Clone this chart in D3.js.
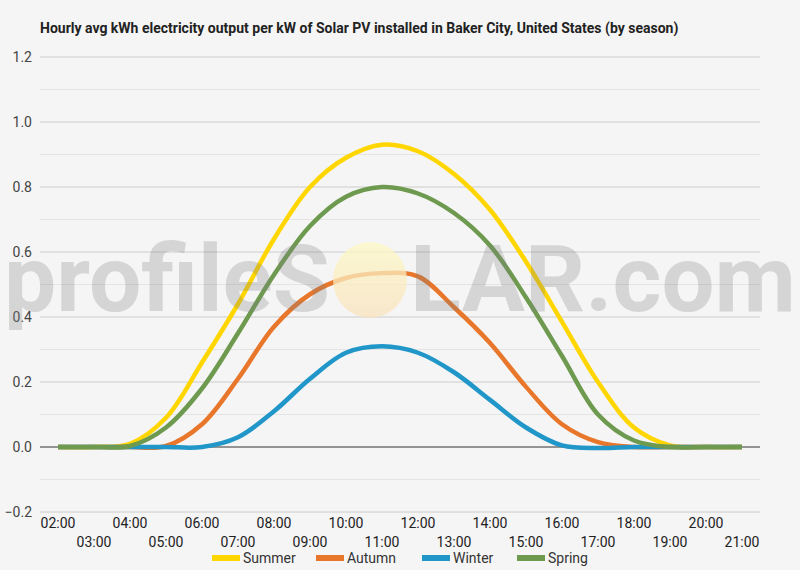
<!DOCTYPE html>
<html>
<head>
<meta charset="utf-8">
<script src="https://cdn.jsdelivr.net/npm/d3@7"></script>
<style>
  body { margin: 0; background: #f5f5f5; }
  svg { display: block; font-family: Roboto, "Noto Sans", sans-serif; }
</style>
</head>
<body>
<div id="container"></div>
<script>
// hours on the x axis
var hours = ["02:00", "03:00", "04:00", "05:00", "06:00", "07:00", "08:00", "09:00", "10:00", "11:00",
             "12:00", "13:00", "14:00", "15:00", "16:00", "17:00", "18:00", "19:00", "20:00", "21:00"];

var summer = [0, 0, 0.01, 0.09, 0.26, 0.44, 0.64, 0.80, 0.89, 0.93, 0.91, 0.84, 0.73, 0.57, 0.385, 0.20, 0.06, 0.005, 0, 0];
var autumn = [0, 0, 0, 0.003, 0.07, 0.21, 0.37, 0.47, 0.52, 0.535, 0.525, 0.43, 0.32, 0.185, 0.07, 0.015, 0, 0, 0, 0];
var winter = [0, 0, 0, 0, 0, 0.03, 0.11, 0.21, 0.29, 0.31, 0.29, 0.23, 0.145, 0.06, 0.005, -0.003, 0, 0, 0, 0];
var spring = [0, 0, 0.003, 0.06, 0.18, 0.35, 0.53, 0.68, 0.77, 0.80, 0.78, 0.72, 0.62, 0.46, 0.28, 0.10, 0.02, 0, 0, 0];

var seriesNames = ["Summer", "Autumn", "Winter", "Spring"];
var seriesColors = ["#ffd600", "#e8762b", "#2196c8", "#6e9a4f"];
var seriesValues = [summer, autumn, winter, spring];

var yMajor = [-0.2, 0, 0.2, 0.4, 0.6, 0.8, 1.0, 1.2];
var yMinor = [-0.1, 0.1, 0.3, 0.5, 0.7, 0.9, 1.1];

var svgWidth = 800;
var svgHeight = 570;
var margin = { top: 57, right: 40, bottom: 58, left: 40 };
var width = svgWidth - margin.left - margin.right;
var height = svgHeight - margin.top - margin.bottom;

var svg = d3.select("#container")
  .append("svg")
  .attr("width", svgWidth)
  .attr("height", svgHeight);

svg.append("rect")
  .attr("width", svgWidth)
  .attr("height", svgHeight)
  .attr("fill", "#f5f5f5");

svg.append("text")
  .attr("x", 40)
  .attr("y", 33)
  .attr("font-size", "14px")
  .attr("font-weight", "bold")
  .attr("fill", "#222")
  .text("Hourly avg kWh electricity output per kW of Solar PV installed in Baker City, United States (by season)");

var chart = svg.append("g")
  .attr("transform", `translate(${margin.left}, ${margin.top})`);

var x = d3.scaleBand().domain(hours).range([0, width]);
var y = d3.scaleLinear().domain([-0.2, 1.2]).range([height, 0]);

// gridlines
chart.selectAll(".minor")
  .data(yMinor)
  .enter()
  .append("line")
  .attr("x1", 0).attr("x2", width)
  .attr("y1", d => y(d)).attr("y2", d => y(d))
  .attr("stroke", "#e4e4e4")
  .attr("stroke-width", 1);

chart.selectAll(".major")
  .data(yMajor)
  .enter()
  .append("line")
  .attr("x1", 0).attr("x2", width)
  .attr("y1", d => y(d)).attr("y2", d => y(d))
  .attr("stroke", d => d === 0 ? "#333" : "#cccccc")
  .attr("stroke-width", 1);

// y axis labels
var leftAxis = d3.axisLeft(y).tickValues(yMajor).tickSize(0).tickPadding(8).tickFormat(d3.format(".1f"));
chart.append("g")
  .call(leftAxis)
  .call(g => g.select(".domain").remove())
  .selectAll("text")
  .attr("font-family", "Roboto, sans-serif")
  .attr("font-size", "14px")
  .attr("fill", "#444");

// x axis labels, staggered in two rows
var bottomAxis = d3.axisBottom(x).tickSize(0).tickPadding(0);
chart.append("g")
  .attr("transform", `translate(0, ${height})`)
  .call(bottomAxis)
  .call(g => g.select(".domain").remove())
  .selectAll("text")
  .attr("font-family", "Roboto, sans-serif")
  .attr("font-size", "14px")
  .attr("fill", "#222")
  .attr("dy", null)
  .attr("y", (d, i) => i % 2 === 0 ? 16 : 35);

// series lines
var line = d3.line()
  .x((d, i) => x(hours[i]) + x.bandwidth() / 2)
  .y(d => y(d))
  .curve(d3.curveCatmullRom.alpha(0.5));

chart.selectAll(".series")
  .data(seriesValues)
  .enter()
  .append("path")
  .attr("d", d => line(d))
  .attr("fill", "none")
  .attr("stroke", (d, i) => seriesColors[i])
  .attr("stroke-width", 4.5)
  .attr("stroke-linejoin", "round");

// watermark
var defs = svg.append("defs");
var grad = defs.append("linearGradient")
  .attr("id", "sun")
  .attr("x1", 0).attr("y1", 0).attr("x2", 0).attr("y2", 1);
grad.append("stop").attr("offset", "0%").attr("stop-color", "#fdf8c4");
grad.append("stop").attr("offset", "100%").attr("stop-color", "#f9e2bd");

var mark = svg.append("g");
mark.append("ellipse")
  .attr("cx", 370).attr("cy", 280)
  .attr("rx", 37).attr("ry", 38)
  .attr("fill", "url(#sun)")
  .attr("opacity", 0.75);
mark.selectAll("text")
  .data([{ t: "profileS", x: 4, w: 326 }, { t: "LAR.com", x: 410, w: 386 }])
  .enter()
  .append("text")
  .attr("x", d => d.x).attr("y", 311)
  .attr("font-size", "93px")
  .attr("font-weight", "bold")
  .attr("font-family", "Roboto, sans-serif")
  .attr("fill", "#808080")
  .attr("fill-opacity", 0.28)
  .attr("textLength", d => d.w)
  .attr("lengthAdjust", "spacingAndGlyphs")
  .text(d => d.t);

// legend
var legendX = [212, 316, 422, 517];
var legend = svg.selectAll(".legend")
  .data(seriesNames)
  .enter()
  .append("g")
  .attr("transform", (d, i) => `translate(${legendX[i]}, 558)`);

legend.append("rect")
  .attr("x", 0).attr("y", -3)
  .attr("width", 28).attr("height", 6)
  .attr("fill", (d, i) => seriesColors[i]);

legend.append("text")
  .attr("x", 31).attr("y", 5)
  .attr("font-size", "14px")
  .attr("fill", "#333")
  .text(d => d);
</script>
</body>
</html>
